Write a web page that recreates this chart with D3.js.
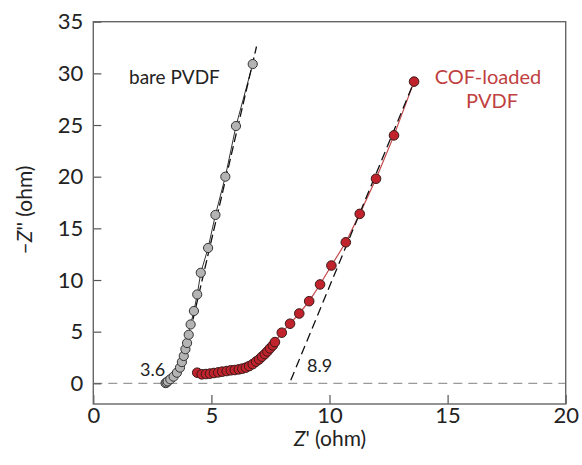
<!DOCTYPE html>
<html>
<head>
<meta charset="utf-8">
<script src="https://cdn.jsdelivr.net/npm/d3@7"></script>
<style>
  body { margin: 0; background: #fff; }
  svg text { font-family: Lato, 'Noto Sans', sans-serif; }
</style>
</head>
<body>
<svg id="chart" width="582" height="465"></svg>
<script>
// bare PVDF impedance points (Z', -Z'')
var bareX = [3.06, 3.10, 3.15, 3.26, 3.40, 3.54, 3.67, 3.75, 3.83, 3.90, 3.97, 4.04, 4.12, 4.26, 4.40, 4.55, 4.86, 5.17, 5.59, 6.04, 6.75];
var bareY = [0.02, 0.08, 0.19, 0.39, 0.65, 1.03, 1.52, 2.06, 2.65, 3.30, 3.90, 4.70, 5.70, 7.00, 8.60, 10.7, 13.1, 16.3, 20.0, 24.9, 30.9];

// COF-loaded PVDF points
var cofX = [4.40, 4.59, 4.77, 4.94, 5.11, 5.29, 5.46, 5.65, 5.82, 5.99, 6.16, 6.31, 6.46, 6.60, 6.75, 6.89, 7.02, 7.14, 7.26, 7.37, 7.48, 7.60, 7.69, 7.98, 8.33, 8.72, 9.14, 9.60, 10.08, 10.69, 11.28, 11.97, 12.73, 13.58];
var cofY = [1.03, 0.87, 0.90, 0.94, 1.00, 1.06, 1.13, 1.19, 1.26, 1.29, 1.35, 1.42, 1.52, 1.67, 1.86, 2.10, 2.32, 2.58, 2.83, 3.09, 3.38, 3.67, 3.99, 4.90, 5.77, 6.76, 7.95, 9.57, 11.4, 13.65, 16.4, 19.8, 24.0, 29.2];

// linear fits drawn as dashed lines (endpoints)
var bareFitX = [4.22, 6.91];
var bareFitY = [6.18, 32.6];
var cofFitX = [8.36, 13.6];
var cofFitY = [0.3, 29.3];

var xTicks = [0, 5, 10, 15, 20];
var yTicks = [0, 5, 10, 15, 20, 25, 30, 35];

var svg = d3.select('#chart');
var plotLeft = 93.3, plotRight = 565.7, plotTop = 21.7, plotBottom = 404;

var x = d3.scaleLinear().domain([0, 20]).range([plotLeft, plotRight]);
var y = d3.scaleLinear().domain([-2, 35]).range([plotBottom, plotTop]);

// zero line
svg.append('line')
   .attr('x1', plotLeft).attr('x2', plotRight)
   .attr('y1', y(0)).attr('y2', y(0))
   .attr('stroke', '#9a9a9a').attr('stroke-width', 1.4)
   .attr('stroke-dasharray', '9,6');

// axes
var xAxis = svg.append('g').attr('transform', `translate(0,${plotBottom})`)
   .call(d3.axisBottom(x).tickValues(xTicks).tickSizeInner(-9).tickSizeOuter(0).tickPadding(3));
var yAxis = svg.append('g').attr('transform', `translate(${plotLeft},0)`)
   .call(d3.axisLeft(y).tickValues(yTicks).tickSizeInner(-8).tickSizeOuter(0).tickPadding(10));

[xAxis, yAxis].forEach(function(g) {
  g.selectAll('path').remove();
  g.selectAll('line').attr('stroke', '#555').attr('stroke-width', 1.2);
  g.selectAll('text').attr('font-size', 22).attr('fill', '#222')
   .style('font-family', 'Lato, sans-serif');
});

// frame
svg.append('rect')
   .attr('x', plotLeft).attr('y', plotTop)
   .attr('width', plotRight - plotLeft).attr('height', plotBottom - plotTop)
   .attr('fill', 'none').attr('stroke', '#666').attr('stroke-width', 1.4);

var line = d3.line().x(d => x(d[0])).y(d => y(d[1]));
var bare = d3.zip(bareX, bareY);
var cof = d3.zip(cofX, cofY);

// connecting lines
svg.append('path').datum(bare).attr('d', line)
   .attr('fill', 'none').attr('stroke', '#333').attr('stroke-width', 1);
svg.append('path').datum(cof).attr('d', line)
   .attr('fill', 'none').attr('stroke', '#c4474b').attr('stroke-width', 1.2);

// fit lines
svg.append('path').datum(d3.zip(bareFitX, bareFitY)).attr('d', line)
   .attr('fill', 'none').attr('stroke', '#111').attr('stroke-width', 1.3)
   .attr('stroke-dasharray', '9,4');
svg.append('path').datum(d3.zip(cofFitX, cofFitY)).attr('d', line)
   .attr('fill', 'none').attr('stroke', '#111').attr('stroke-width', 1.3)
   .attr('stroke-dasharray', '9,5');

// markers
svg.append('g').selectAll('circle').data(bare).enter().append('circle')
   .attr('cx', d => x(d[0])).attr('cy', d => y(d[1])).attr('r', 4.6)
   .attr('fill', '#b4b4b4').attr('stroke', '#333').attr('stroke-width', 1);
svg.append('g').selectAll('circle').data(cof).enter().append('circle')
   .attr('cx', d => x(d[0])).attr('cy', d => y(d[1])).attr('r', 4.8)
   .attr('fill', '#c0232b').attr('stroke', '#3a1a1a').attr('stroke-width', 1);

// annotations
svg.append('text').attr('x', 129).attr('y', 84).attr('font-size', 19).attr('fill', '#222').text('bare PVDF');
svg.append('text').attr('x', 488).attr('y', 84).attr('font-size', 20).attr('fill', '#c0403f')
   .attr('text-anchor', 'middle').text('COF-loaded');
svg.append('text').attr('x', 492).attr('y', 108).attr('font-size', 20).attr('fill', '#c0403f')
   .attr('text-anchor', 'middle').text('PVDF');
svg.append('text').attr('x', 140).attr('y', 376).attr('font-size', 18).attr('fill', '#222').text('3.6');
svg.append('text').attr('x', 307).attr('y', 372).attr('font-size', 18).attr('fill', '#222').text('8.9');

// axis titles
var xt = svg.append('text').attr('x', 330).attr('y', 446).attr('font-size', 21)
   .attr('text-anchor', 'middle').attr('fill', '#222');
xt.append('tspan').attr('font-style', 'italic').text('Z');
xt.append('tspan').text("' (ohm)");

var yt = svg.append('text').attr('transform', 'translate(32,210) rotate(-90)')
   .attr('font-size', 21).attr('text-anchor', 'middle').attr('fill', '#222');
yt.append('tspan').text('\u2013');
yt.append('tspan').attr('font-style', 'italic').text('Z');
yt.append('tspan').text("'' (ohm)");
</script>
</body>
</html>
